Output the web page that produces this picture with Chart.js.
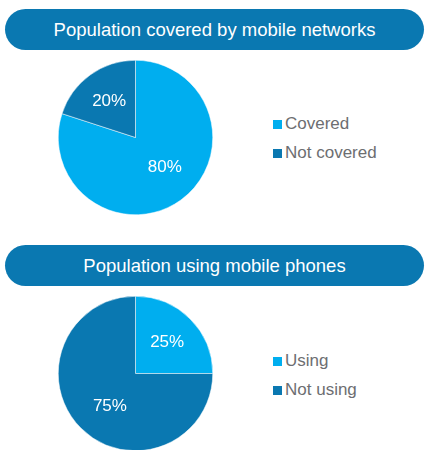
<!DOCTYPE html>
<html>
<head>
<meta charset="utf-8">
<script src="https://cdn.jsdelivr.net/npm/chart.js@4/dist/chart.umd.min.js"></script>
<style>
  body { margin: 0; background: #fff; font-family: "Liberation Sans", Arial, sans-serif; }
  #page { position: relative; width: 426px; height: 450px; overflow: hidden; }
  .banner {
    position: absolute; left: 5px; width: 419px; height: 41px;
    border-radius: 21px; background: #0a78b1; color: #fff;
    font-size: 18.5px; line-height: 41px; text-align: center;
  }
  .pie { position: absolute; left: 58px; width: 155px; height: 155px; }
  .legend { position: absolute; left: 273px; font-size: 17px; color: #6d6e71; }
  .legend div { height: 29px; line-height: 29px; white-space: nowrap; }
  .legend span.box { display: inline-block; width: 9px; height: 9px; margin-right: 3px; vertical-align: 0px; }
</style>
</head>
<body>
<div id="page">
  <div class="banner" style="top:9px">Population covered by mobile networks</div>
  <div class="pie" style="top:60px"><canvas id="coverage"></canvas></div>
  <div class="legend" id="coverageLegend" style="top:109px"></div>

  <div class="banner" style="top:245px">Population using mobile phones</div>
  <div class="pie" style="top:296px"><canvas id="usage"></canvas></div>
  <div class="legend" id="usageLegend" style="top:346px"></div>
</div>
<script>
// data
const coverageLabels = ["Covered", "Not covered"]
const coverageValues = [80, 20]
const usageLabels = ["Using", "Not using"]
const usageValues = [25, 75]

const COLORS = ["#00aeef", "#0a78b1"]

// writes the percentage inside each slice, at its mid angle
const sliceLabels = {
  id: "sliceLabels",
  afterDatasetsDraw(chart) {
    const ctx = chart.ctx
    const meta = chart.getDatasetMeta(0)
    const values = chart.data.datasets[0].data
    ctx.save()
    ctx.fillStyle = "#fff"
    ctx.font = '17px "Liberation Sans", Arial, sans-serif'
    ctx.textAlign = "center"
    ctx.textBaseline = "middle"
    meta.data.forEach((arc, i) => {
      const { x, y, startAngle, endAngle, outerRadius } = arc.getProps(["x", "y", "startAngle", "endAngle", "outerRadius"], true)
      // big slices get their label pulled toward the open side, like the original
      const mid = (startAngle + endAngle) / 2 - (values[i] > 50 ? (values[i] - 50) / 100 * 0.5 : 0)
      const d = outerRadius * (values[i] > 50 ? 0.54 : 0.58)
      ctx.fillText(values[i] + "%", x + Math.cos(mid) * d, y + Math.sin(mid) * d)
    })
    ctx.restore()
  }
}

function buildLegend(el, labels) {
  el.innerHTML = labels.map((l, i) =>
    `<div><span class="box" style="background:${COLORS[i]}"></span>${l}</div>`).join("")
}

function makePie(id, labels, values) {
  new Chart(document.getElementById(id), {
    type: "pie",
    data: {
      labels,
      datasets: [{
        data: values,
        backgroundColor: COLORS,
        borderColor: "#ffffff",
        borderWidth: 0.5
      }]
    },
    options: {
      responsive: true,
      maintainAspectRatio: false,
      animation: false,
      layout: { padding: 0 },
      plugins: {
        legend: { display: false },
        tooltip: { enabled: false }
      }
    },
    plugins: [sliceLabels]
  })
}

makePie("coverage", coverageLabels, coverageValues)
makePie("usage", usageLabels, usageValues)
buildLegend(document.getElementById("coverageLegend"), coverageLabels)
buildLegend(document.getElementById("usageLegend"), usageLabels)
</script>
</body>
</html>
